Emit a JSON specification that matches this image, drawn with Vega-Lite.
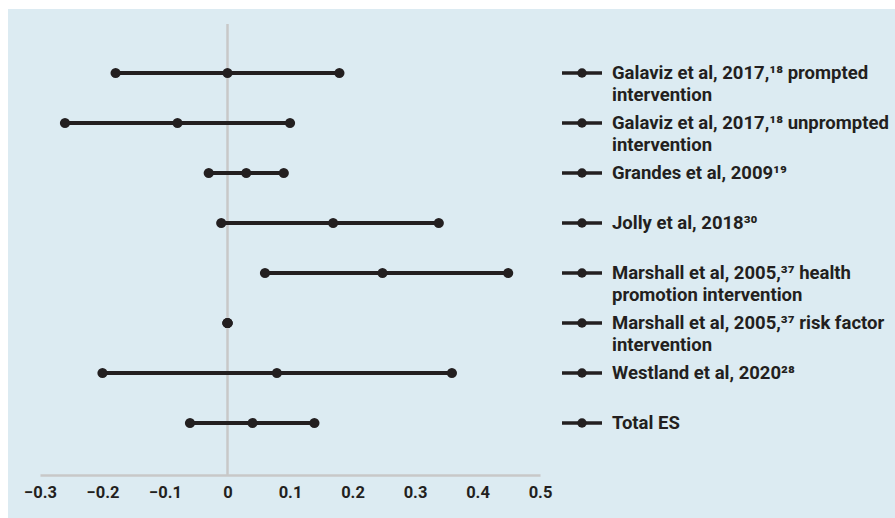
{
  "$schema": "https://vega.github.io/schema/vega-lite/v6.json",
  "width": 887,
  "height": 509,
  "autosize": {"type": "none"},
  "padding": {"left": 8, "top": 9, "right": 0, "bottom": 0},
  "background": "#ffffff",
  "config": {
    "view": {"fill": "#dcebf2", "stroke": null},
    "font": "Roboto"
  },
  "datasets": {
    "studies": [
      {"study": "Galaviz prompted", "lo": -0.179, "est": 0.0, "hi": 0.179, "label": "Galaviz et al, 2017,¹⁸ prompted\nintervention"},
      {"study": "Galaviz unprompted", "lo": -0.26, "est": -0.08, "hi": 0.10, "label": "Galaviz et al, 2017,¹⁸ unprompted\nintervention"},
      {"study": "Grandes", "lo": -0.03, "est": 0.03, "hi": 0.09, "label": "Grandes et al, 2009¹⁹"},
      {"study": "Jolly", "lo": -0.01, "est": 0.169, "hi": 0.338, "label": "Jolly et al, 2018³⁰"},
      {"study": "Marshall health", "lo": 0.06, "est": 0.248, "hi": 0.449, "label": "Marshall et al, 2005,³⁷ health\npromotion intervention"},
      {"study": "Marshall risk", "lo": 0.0, "est": 0.0, "hi": 0.0, "label": "Marshall et al, 2005,³⁷ risk factor\nintervention"},
      {"study": "Westland", "lo": -0.2, "est": 0.079, "hi": 0.359, "label": "Westland et al, 2020²⁸"},
      {"study": "Total ES", "lo": -0.06, "est": 0.04, "hi": 0.139, "label": "Total ES"}
    ]
  },
  "layer": [
    {
      "data": {"values": [{}]},
      "mark": {"type": "rule", "color": "#c8c8c8", "strokeWidth": 2.5},
      "encoding": {
        "x": {
          "datum": 0,
          "type": "quantitative",
          "title": null,
          "scale": {"domain": [-0.3, 0.5], "range": [32, 532], "nice": false, "zero": false},
          "axis": {
            "title": null,
            "values": [-0.3, -0.2, -0.1, 0, 0.1, 0.2, 0.3, 0.4, 0.5],
            "labelExpr": "datum.value == 0 ? '0' : format(datum.value, '.1f')",
            "labelFlush": false,
            "labelOverlap": false,
            "offset": -43,
            "domainColor": "#c8c8c8",
            "domainWidth": 2.5,
            "ticks": false,
            "grid": false,
            "labelFont": "Roboto",
            "labelFontSize": 16.5,
            "labelFontWeight": "bold",
            "labelColor": "#231f20",
            "labelPadding": 9
          }
        },
        "y": {"datum": 0, "type": "quantitative", "scale": {"domain": [0, 1], "range": [15, 466], "nice": false, "zero": false}, "axis": null},
        "y2": {"datum": 1}
      }
    },
    {
      "data": {"name": "studies"},
      "encoding": {
        "y": {
          "field": "study",
          "type": "nominal",
          "sort": ["Galaviz prompted", "Galaviz unprompted", "Grandes", "Jolly", "Marshall health", "Marshall risk", "Westland", "Total ES"],
          "scale": {"type": "point", "range": [14, 464], "padding": 1},
          "axis": null
        }
      },
      "layer": [
        {
          "mark": {"type": "rule", "color": "#231f20", "strokeWidth": 4},
          "encoding": {
            "x": {"field": "lo", "type": "quantitative", "title": null},
            "x2": {"field": "hi"}
          }
        },
        {
          "transform": [{"fold": ["lo", "est", "hi"], "as": ["kind", "value"]}],
          "mark": {"type": "point", "filled": true, "shape": "circle", "size": 105, "color": "#231f20", "opacity": 1},
          "encoding": {
            "x": {"field": "value", "type": "quantitative", "title": null}
          }
        },
        {
          "mark": {"type": "rule", "color": "#231f20", "strokeWidth": 3.5},
          "encoding": {
            "x": {"datum": 0.5352, "type": "quantitative", "title": null},
            "x2": {"datum": 0.5992}
          }
        },
        {
          "mark": {"type": "point", "filled": true, "shape": "circle", "size": 90, "color": "#231f20", "opacity": 1},
          "encoding": {
            "x": {"datum": 0.5672, "type": "quantitative", "title": null}
          }
        },
        {
          "mark": {"type": "text", "align": "left", "baseline": "middle", "lineBreak": "\n", "lineHeight": 22, "font": "Roboto", "fontSize": 18.5, "fontWeight": "bold", "color": "#231f20"},
          "encoding": {
            "x": {"datum": 0.6152, "type": "quantitative", "title": null},
            "text": {"field": "label", "type": "nominal"}
          }
        }
      ]
    }
  ],
  "resolve": {"scale": {"y": "independent"}}
}
